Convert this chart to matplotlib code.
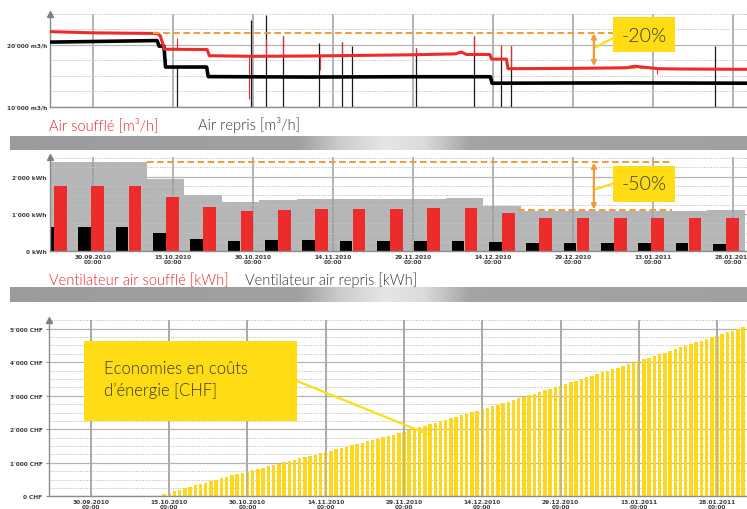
import numpy as np
import matplotlib
matplotlib.use('Agg')
import matplotlib.pyplot as plt
from matplotlib.patches import Rectangle
from matplotlib.lines import Line2D

W, H = 747, 510

# ---------------- data ----------------
date_labels = ['30.09.2010', '15.10.2010', '30.10.2010', '14.11.2010', '29.11.2010',
               '14.12.2010', '29.12.2010', '13.01.2011', '28.01.2011']
date_days = [0, 15, 30, 45, 60, 75, 90, 105, 120]          # days after 30.09.2010

# Panel 1 : air flow [m3/h]
supply_days = [-8.1, 0, 6, 12.0, 12.6, 13.4, 21.4, 21.8, 30, 40, 50, 60, 68, 69, 70,
               74.4, 74.7, 77.5, 77.8, 90, 100, 101.5, 106, 110, 122.6]
supply_flow = [22150, 21950, 21900, 21850, 21500, 19300, 19250, 18250, 18150, 18200, 18300,
               18400, 18550, 18850, 18450, 18450, 17700, 17700, 16150, 16200, 16300, 16550,
               16150, 16100, 16050]
exhaust_days = [-8.1, 12.0, 12.4, 13.3, 13.6, 21.3, 21.6, 40, 60, 74.5, 74.8, 100, 122.6]
exhaust_flow = [20450, 20700, 19800, 19800, 16420, 16420, 14870, 14800, 14850, 14850,
                13800, 13850, 13800]
exhaust_spike_days = [15.75, 29.6, 32.4, 35.7, 42.4, 46.6, 48.5, 60.5, 71.5, 76.5, 78.4, 116.6]
exhaust_spike_top = [16400, 24060, 24900, 21390, 20320, 20430, 19890, 19520, 21390, 19790,
                     19790, 19790]
supply_spike_days = [15.75, 29.2, 32.4, 35.7, 42.6, 46.6, 60.5, 71.5, 76.5, 78.4, 105.7]
supply_spike_lo = [19250, 11230, 18250, 18250, 15880, 18200, 18400, 18450, 17700, 16150, 15300]
supply_spike_hi = [21120, 18300, 20960, 21390, 18200, 20430, 19520, 21280, 19950, 19790, 16100]
flow_before = 21950
flow_after = 16300

# Panel 2 : weekly fan energy [kWh]
week_mid_days = [-7.35, -0.35, 6.65, 13.65, 20.65, 27.65, 34.65, 41.65, 48.65, 55.65,
                 62.65, 69.65, 76.65, 83.65, 90.65, 97.65, 104.65, 111.65, 118.65]
reference_kwh = [2390, 2390, 2390, 1930, 1515, 1330, 1372, 1411, 1411, 1411, 1411, 1428,
                 1223, 1085, 1085, 1085, 1085, 1085, 1116]
supply_fan_kwh = [1741, 1741, 1741, 1446, 1196, 1080, 1116, 1143, 1134, 1143, 1152, 1152,
                  1018, 905, 893, 893, 900, 885, 905]
exhaust_fan_kwh = [643, 643, 652, 491, 330, 268, 295, 295, 286, 268, 268, 277, 241, 232,
                   214, 214, 223, 214, 205]
kwh_before = 2400
kwh_after = 1100

# Panel 3 : cumulated energy cost savings [CHF], one bar per day from 13.10.2010
savings_first_day = 13
savings_chf = [20, 65, 105, 150, 195, 240, 280, 325, 370, 410, 455, 500, 540, 585, 630, 670,
               705, 740,
               780, 818, 857, 896, 935, 973, 1012, 1050, 1090, 1128, 1166, 1205, 1243, 1282, 1320,
               1360, 1400, 1440, 1480, 1520, 1560, 1600, 1640, 1680, 1720, 1760, 1800, 1840, 1880, 1920,
               1965, 2010, 2055, 2100, 2145, 2190, 2235, 2280, 2325, 2370, 2415, 2460, 2505, 2548, 2590,
               2637, 2685, 2732, 2780, 2827, 2875, 2922, 2970, 3017, 3065, 3112, 3160, 3207, 3255, 3300,
               3350, 3399, 3448, 3497, 3547, 3596, 3645, 3694, 3744, 3793, 3842, 3892, 3941, 3990, 4040,
               4090, 4140, 4190, 4240, 4290, 4340, 4390, 4440, 4490, 4540, 4590, 4640, 4690, 4740, 4790,
               4842, 4894, 4946, 4998, 5050]

# ---------------- styling ----------------
RED = '#ee2b2b'
LEGRED = '#e8262b'
ORANGE = '#f39c35'
YELLOW = '#ffdc14'
BARYELLOW = '#ffd81e'
GRAYFILL = '#b5b6b8'
TXT = '#3b3823'
LEG_FONT = dict(family=['Lato', 'DejaVu Sans'], fontweight=300)
TICK_FONT = dict(family='DejaVu Sans', fontweight='bold', fontsize=4.2, color='#3c3c3c')

fig = plt.figure(figsize=(W / 100, H / 100), dpi=100)
fig.patch.set_facecolor('white')


def fx(px):
    return px / W


def fy(py):
    return 1 - py / H


def ax_at(l, t, r, b):
    return fig.add_axes([l / W, 1 - b / H, (r - l) / W, (b - t) / H])


def style(ax, xlim, ylim, major, minor, ylabels, xlabels=True, ticklen=0):
    ax.set_xlim(xlim)
    ax.set_ylim(ylim)
    ax.set_facecolor('white')
    for s in ['top', 'right']:
        ax.spines[s].set_visible(False)
    for s in ['left', 'bottom']:
        ax.spines[s].set_color('#8c8c8c')
        ax.spines[s].set_linewidth(1.0)
    ax.set_xticks(date_days)
    if xlabels:
        ax.set_xticklabels([f'{d}\n00:00' for d in date_labels], linespacing=1.0, **TICK_FONT)
    else:
        ax.set_xticklabels([])
    ax.set_yticks(major)
    ax.set_yticklabels(ylabels, **TICK_FONT)
    ax.set_yticks(minor, minor=True)
    ax.tick_params(axis='x', length=0, pad=2.2)
    ax.tick_params(axis='y', which='major', length=ticklen, color='#8c8c8c', pad=2.2)
    ax.tick_params(axis='y', which='minor', length=0)
    ax.set_axisbelow(True)
    ax.grid(axis='x', which='major', color='#9e9e9e', lw=1.1)
    ax.grid(axis='y', which='major', color='#b4b4b4', lw=0.9)
    ax.grid(axis='y', which='minor', color='#c4c4c4', lw=0.7, ls=(0, (1.2, 1.2)))
    ax.plot([xlim[0]], [ylim[1]], marker='^', color='#808080', ms=4, clip_on=False, zorder=5)


# ---------------- Panel 1 ----------------
ax1 = ax_at(50, 15, 747, 107.7)
style(ax1, (-8.06, 122.6), (10000, 25000), [10000, 20000],
      [12500, 15000, 17500, 22500, 25000], ["10'000 m3/h", "20'000 m3/h"], xlabels=False)
ax1.vlines(exhaust_spike_days, 10000, exhaust_spike_top, color='#1a1a1a', lw=0.9, zorder=2)
ax1.vlines(supply_spike_days, supply_spike_lo, supply_spike_hi, color=RED, lw=0.8, zorder=2)
ax1.plot(exhaust_days, exhaust_flow, color='#000000', lw=2.6, zorder=3)
ax1.plot(supply_days, supply_flow, color=RED, lw=2.2, zorder=3)
ax1.plot([11.25, 97.9], [flow_before] * 2, color=ORANGE, lw=1.4, ls=(0, (3.4, 1.8)), zorder=4)
ax1.plot([77.8, 105.8], [flow_after] * 2, color=ORANGE, lw=1.4, ls=(0, (3.4, 1.8)), zorder=2.5)
ax1.annotate('', xy=(93.9, flow_before - 50), xytext=(93.9, flow_after + 250),
             arrowprops=dict(arrowstyle='<|-|>', color=ORANGE, lw=1.6, mutation_scale=7,
                             shrinkA=0, shrinkB=0), zorder=6)

fig.text(fx(49), fy(130), 'Air soufflé [m³/h]', color=LEGRED, fontsize=10.5, va='baseline', **LEG_FONT)
fig.text(fx(198), fy(130), 'Air repris [m³/h]', color='#333333', fontsize=10.5, va='baseline', **LEG_FONT)

# ---------------- Panel 2 ----------------
ax2 = ax_at(50, 158, 747, 252.3)
style(ax2, (-8.06, 122.6), (0, 2530), [0, 1000, 2000],
      [250, 500, 750, 1250, 1500, 1750, 2250, 2500], ["0 kWh", "1'000 kWh", "2'000 kWh"])
ax2.bar(week_mid_days, reference_kwh, width=7.0, color=GRAYFILL, zorder=0.2)
wm = np.array(week_mid_days)
ax2.bar(wm - 1.22, exhaust_fan_kwh, width=2.4, color='#000000', zorder=2)
ax2.bar(wm + 1.22, supply_fan_kwh, width=2.4, color=RED, zorder=2)
ax2.plot([10.1, 108.6], [kwh_before] * 2, color=ORANGE, lw=1.4, ls=(0, (3.4, 1.8)), zorder=4)
ax2.plot([79.7, 108.6], [kwh_after] * 2, color=ORANGE, lw=1.4, ls=(0, (3.4, 1.8)), zorder=4)
ax2.annotate('', xy=(93.9, kwh_before - 20), xytext=(93.9, kwh_after + 20),
             arrowprops=dict(arrowstyle='<|-|>', color=ORANGE, lw=1.6, mutation_scale=7,
                             shrinkA=0, shrinkB=0), zorder=6)

fig.text(fx(49), fy(285), 'Ventilateur air soufflé [kWh]', color=LEGRED, fontsize=10.5, va='baseline', **LEG_FONT)
fig.text(fx(245), fy(285), 'Ventilateur air repris [kWh]', color='#333333', fontsize=10.5, va='baseline', **LEG_FONT)

# ---------------- Panel 3 ----------------
ax3 = ax_at(49, 321, 747, 497.3)
style(ax3, (-8.05, 125.75), (0, 5260), [0, 1000, 2000, 3000, 4000, 5000],
      [v for v in range(250, 5260, 250) if v % 1000], ["0 CHF", "1'000 CHF", "2'000 CHF",
                                                      "3'000 CHF", "4'000 CHF", "5'000 CHF"],
      ticklen=2.5)
sx = savings_first_day + np.arange(len(savings_chf))
ax3.bar(sx, savings_chf, width=0.66, color=BARYELLOW, zorder=1)
for d in date_days:
    ax3.axvline(d, color='#a6a6a6', lw=1.1, zorder=1.5, alpha=0.8)

# ---------------- separators ----------------
def separator(top, bot):
    a = fig.add_axes([10 / W, 1 - bot / H, (W - 10) / W, (bot - top) / H])
    xs = np.linspace(10, W, 600)
    g = np.interp(xs, [10, 300, 340, 385, 425, 470, 747], [0.61, 0.63, 0.80, 0.90, 0.86, 0.64, 0.63])
    img = np.stack([g, g, np.clip(g + 0.01, 0, 1)], axis=-1)[None, :, :]
    img = np.repeat(img, 6, axis=0)
    a.imshow(img, aspect='auto', extent=(0, 1, 0, 1))
    a.axis('off')


separator(137, 151)
separator(288, 303)

# ---------------- callouts ----------------
def box(l, t, r, b):
    fig.add_artist(Rectangle((fx(l), fy(b)), (r - l) / W, (b - t) / H, transform=fig.transFigure,
                             facecolor=YELLOW, edgecolor='none', zorder=10))


def leader(x0, y0, x1, y1):
    fig.add_artist(Line2D([fx(x0), fx(x1)], [fy(y0), fy(y1)], transform=fig.transFigure,
                          color=YELLOW, lw=1.6, zorder=9))


leader(596, 48, 615, 38)
box(613, 18, 675, 53)
fig.text(fx(644), fy(36), '-20%', color=TXT, fontsize=14, ha='center', va='center', zorder=11, **LEG_FONT)

leader(596, 190, 615, 184)
box(613, 167, 675, 203)
fig.text(fx(644), fy(185), '-50%', color=TXT, fontsize=14, ha='center', va='center', zorder=11, **LEG_FONT)

leader(297, 382, 430, 436)
box(84, 342, 297, 422)
fig.text(fx(104), fy(380), 'Economies en coûts\nd’énergie [CHF]', color=TXT, fontsize=12,
         ha='left', va='center', linespacing=1.4, zorder=11, **LEG_FONT)

fig.savefig('out.png', dpi=100, facecolor='white')
